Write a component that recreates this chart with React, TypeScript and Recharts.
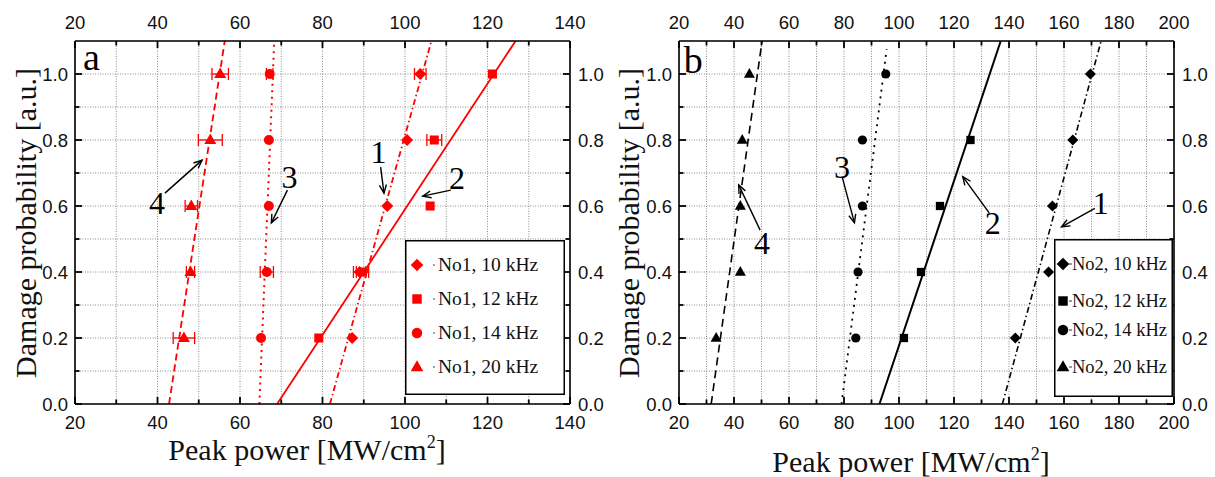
import React from 'react'
import {
  ComposedChart,
  Scatter,
  Line,
  XAxis,
  YAxis,
  CartesianGrid,
  ErrorBar,
  ReferenceLine,
  ReferenceDot,
} from 'recharts'

// damage probability levels (y values of the measured points)
const probs = [0.2, 0.4, 0.6, 0.8, 1.0]

// panel a, sample No1: peak power [MW/cm2] at each probability
const a10 = [87.2, 89.0, 95.7, 100.5, 103.7]
const a12 = [79.1, 89.7, 106.1, 107.1, 121.2]
const a14 = [65.1, 66.5, 67.0, 67.0, 67.2]
const a20 = [46.4, 48.0, 48.2, 52.8, 55.2]
// horizontal error half-widths for panel a
const a10Err = [0, 1.5, 0, 0, 1.4]
const a12Err = [0, 1.5, 0, 1.8, 0]
const a14Err = [0, 1.6, 0, 0, 0.8]
const a20Err = [2.6, 1.0, 1.5, 2.9, 2.0]

// panel b, sample No2
const b10 = [142.3, 154.4, 155.8, 163.2, 169.6]
const b12 = [101.8, 108.0, 114.9, 126.0]
const b14 = [84.3, 85.1, 86.7, 86.7, 95.2]
const b20 = [33.5, 42.3, 42.3, 43.0, 45.6]

// fitted lines: x at the two ends, y at the two ends
const aFit1X = [81.8, 106.4]
const aFit2X = [69.0, 126.8]
const aFit3X = [64.7, 68.3]
const aFit4X = [42.8, 56.3]
const bFit1X = [137.6, 173.5]
const bFit2X = [92.9, 137.0]
const bFit3X = [79.1, 95.5]
const bFit4X = [31.7, 50.2]
const fitY = [0, 1.1]
const bFit3Y = [0, 1.075]

// axis ticks
const aTicks = [20, 30, 40, 50, 60, 70, 80, 90, 100, 110, 120, 130, 140]
const bTicks = [20, 30, 40, 50, 60, 70, 80, 90, 100, 110, 120, 130, 140, 150, 160, 170, 180, 190, 200]
const yTicks = [0, 0.1, 0.2, 0.3, 0.4, 0.5, 0.6, 0.7, 0.8, 0.9, 1.0, 1.1]

const aLabels = ['No1, 10 kHz', 'No1, 12 kHz', 'No1, 14 kHz', 'No1, 20 kHz']
const bLabels = ['No2, 10 kHz', 'No2, 12 kHz', 'No2, 14 kHz', 'No2, 20 kHz']

// annotation numbers [label, x, y] and arrows [x1, y1, x2, y2] in data units
const aNotes: [string, number, number][] = [
  ['1', 93.6, 0.764],
  ['2', 112.6, 0.685],
  ['3', 72.0, 0.688],
  ['4', 39.9, 0.609],
]
const aArrows = [
  [94.1, 0.718, 94.9, 0.639],
  [111.1, 0.648, 104.3, 0.63],
  [71.5, 0.648, 67.6, 0.549],
  [41.8, 0.639, 50.8, 0.739],
]
const bNotes: [string, number, number][] = [
  ['3', 79.3, 0.719],
  ['4', 50.2, 0.488],
  ['2', 134.1, 0.548],
  ['1', 173.4, 0.609],
]
const bArrows = [
  [79.3, 0.689, 83.8, 0.549],
  [49.5, 0.527, 41.7, 0.664],
  [132.8, 0.579, 123.2, 0.689],
  [171.2, 0.593, 159.1, 0.537],
]

const serif = '"Liberation Serif", "Times New Roman", serif'
const sans = '"Liberation Sans", Arial, sans-serif'
const RED = '#ff0000'
const BLACK = '#000000'

const pts = (xs: number[], ys: number[], err?: number[]) =>
  xs.map((x, i) => ({ x, y: ys[i], ex: err ? err[i] : undefined }))

type Kind = 'diamond' | 'square' | 'circle' | 'triangle'

function marker(kind: Kind, cx: number, cy: number, color: string, s = 1) {
  if (kind === 'diamond') {
    const w = 6 * s
    return <polygon points={`${cx},${cy - w} ${cx + w},${cy} ${cx},${cy + w} ${cx - w},${cy}`} fill={color} />
  }
  if (kind === 'square') {
    const h = 4.5 * s
    return <rect x={cx - h} y={cy - h} width={2 * h} height={2 * h} fill={color} />
  }
  if (kind === 'circle') return <circle cx={cx} cy={cy} r={5 * s} fill={color} />
  const w = 6 * s
  return <polygon points={`${cx},${cy - 6.5 * s} ${cx + w},${cy + 4 * s} ${cx - w},${cy + 4 * s}`} fill={color} />
}

const shapeOf = (kind: Kind, color: string, s: number) => (p: any) =>
  p.cx == null ? <g /> : <g>{marker(kind, p.cx, p.cy, color, s)}</g>

function isMajor(v: number, axis: 'x' | 'y') {
  if (axis === 'x') return Math.round(v) % 20 === 0
  return Math.round(v * 10) % 2 === 0 && v < 1.05
}

const makeTick = (side: 'top' | 'bottom' | 'left' | 'right') => (p: any) => {
  const { x, y, payload } = p
  const v = payload.value
  const axis = side === 'top' || side === 'bottom' ? 'x' : 'y'
  if (axis === 'y' && v > 1.05) return <g />
  const major = isMajor(v, axis)
  const len = major ? 7 : 4.5
  const label = axis === 'x' ? String(v) : v.toFixed(1)
  const txt = { fontFamily: sans, fontSize: 18.5, fill: '#111' }
  if (side === 'bottom')
    return (
      <g>
        <line x1={x} y1={y} x2={x} y2={y - len} stroke={BLACK} strokeWidth={1.8} />
        {major && <text x={x} y={y + 25} textAnchor="middle" {...txt}>{label}</text>}
      </g>
    )
  if (side === 'top')
    return (
      <g>
        <line x1={x} y1={y} x2={x} y2={y + len} stroke={BLACK} strokeWidth={1.8} />
        {major && <text x={x} y={y - 12} textAnchor="middle" {...txt}>{label}</text>}
      </g>
    )
  if (side === 'left')
    return (
      <g>
        <line x1={x} y1={y} x2={x + len} y2={y} stroke={BLACK} strokeWidth={1.8} />
        {major && <text x={x - 7} y={y + 6.5} textAnchor="end" {...txt}>{label}</text>}
      </g>
    )
  return (
    <g>
      <line x1={x} y1={y} x2={x - len} y2={y} stroke={BLACK} strokeWidth={1.8} />
      {major && <text x={x + 8} y={y + 6.5} textAnchor="start" {...txt}>{label}</text>}
    </g>
  )
}

const ArrowShape = (p: any) => {
  const { x1, y1, x2, y2 } = p
  const ang = Math.atan2(y2 - y1, x2 - x1)
  const L = 9
  const a1 = ang + Math.PI - 0.4
  const a2 = ang + Math.PI + 0.4
  return (
    <g stroke={BLACK} strokeWidth={1.4} fill="none">
      <line x1={x1} y1={y1} x2={x2} y2={y2} />
      <polyline
        points={`${x2 + L * Math.cos(a1)},${y2 + L * Math.sin(a1)} ${x2},${y2} ${x2 + L * Math.cos(a2)},${y2 + L * Math.sin(a2)}`}
      />
    </g>
  )
}

const noteShape = (label: string, size: number) => (p: any) => (
  <text x={p.cx} y={p.cy} textAnchor="middle" dominantBaseline="central" fontFamily={serif} fontSize={size} fill={BLACK}>
    {label}
  </text>
)

interface Series {
  kind: Kind
  xs: number[]
  err?: number[]
}

interface FitLine {
  xs: number[]
  ys: number[]
  dash?: string
  width: number
}

interface PanelProps {
  left: number
  ticks: number[]
  domain: [number, number]
  color: string
  series: Series[]
  fits: FitLine[]
  notes: [string, number, number][]
  arrows: number[][]
  letter: string
  letterPos: [number, number]
  markerScale: number
}

const axisLine = { stroke: BLACK, strokeWidth: 1.6 }

function Panel({ left, ticks, domain, color, series, fits, notes, arrows, letter, letterPos, markerScale }: PanelProps) {
  return (
    <div style={{ position: 'absolute', left, top: 0 }}>
      {/* axes are 1px thick so that they still get drawn; the margins make up the rest */}
      <ComposedChart width={610} height={477} margin={{ top: 40, right: 40, bottom: 72, left: 73 }}>
        <CartesianGrid stroke="#8c8c8c" strokeDasharray="1 1.5" strokeWidth={1} />
        <XAxis
          type="number"
          dataKey="x"
          domain={domain}
          ticks={ticks}
          allowDataOverflow
          height={1}
          tickSize={0}
          tickMargin={0}
          tickLine={false}
          interval={0}
          axisLine={axisLine}
          tick={makeTick('bottom')}
        />
        <XAxis
          xAxisId="top"
          orientation="top"
          type="number"
          dataKey="x"
          domain={domain}
          ticks={ticks}
          allowDataOverflow
          height={1}
          tickSize={0}
          tickMargin={0}
          tickLine={false}
          interval={0}
          axisLine={axisLine}
          tick={makeTick('top')}
        />
        <YAxis
          type="number"
          dataKey="y"
          domain={[0, 1.1]}
          ticks={yTicks}
          allowDataOverflow
          width={1}
          tickSize={0}
          tickMargin={0}
          tickLine={false}
          interval={0}
          axisLine={axisLine}
          tick={makeTick('left')}
        />
        <YAxis
          yAxisId="right"
          orientation="right"
          type="number"
          dataKey="y"
          domain={[0, 1.1]}
          ticks={yTicks}
          allowDataOverflow
          width={1}
          tickSize={0}
          tickMargin={0}
          tickLine={false}
          interval={0}
          axisLine={axisLine}
          tick={makeTick('right')}
        />
        {fits.map((f, i) => (
          <Line
            key={'fit' + i}
            data={pts(f.xs, f.ys)}
            dataKey="y"
            type="linear"
            stroke={color}
            strokeWidth={f.width}
            strokeDasharray={f.dash}
            dot={false}
            activeDot={false}
            isAnimationActive={false}
          />
        ))}
        {series.map((s, i) => (
          <Scatter
            key={'s' + i}
            data={pts(s.xs, probs.slice(0, s.xs.length), s.err)}
            dataKey="y"
            fill={color}
            shape={shapeOf(s.kind, color, markerScale)}
            isAnimationActive={false}
          >
            {s.err && <ErrorBar dataKey="ex" direction="x" width={6} stroke={color} strokeWidth={1.3} />}
          </Scatter>
        ))}
        {arrows.map((a, i) => (
          <ReferenceLine
            key={'ar' + i}
            segment={[
              { x: a[0], y: a[1] },
              { x: a[2], y: a[3] },
            ]}
            ifOverflow="visible"
            shape={ArrowShape}
          />
        ))}
        {notes.map((n, i) => (
          <ReferenceDot key={'n' + i} x={n[1]} y={n[2]} r={1} ifOverflow="visible" shape={noteShape(n[0], 32)} />
        ))}
        <ReferenceDot x={letterPos[0]} y={letterPos[1]} r={1} ifOverflow="visible" shape={noteShape(letter, 38)} />
      </ComposedChart>
    </div>
  )
}

function LegendBox({
  left,
  top,
  width,
  height,
  labels,
  color,
  rows,
  markerX,
  textX,
  fontSize,
  dash,
}: {
  left: number
  top: number
  width: number
  height: number
  labels: string[]
  color: string
  rows: number[]
  markerX: number
  textX: number
  fontSize: number
  dash: boolean
}) {
  const kinds: Kind[] = ['diamond', 'square', 'circle', 'triangle']
  return (
    <svg style={{ position: 'absolute', left, top, overflow: 'hidden' }} width={width} height={height}>
      <rect x={0.75} y={0.75} width={width - 1.5} height={height - 1.5} fill="#fff" stroke={BLACK} strokeWidth={1.5} />
      {labels.map((l, i) => (
        <g key={l}>
          {marker(kinds[i], markerX, rows[i], color, 1.05)}
          {dash ? (
            <line x1={markerX + 6} y1={rows[i]} x2={textX} y2={rows[i]} stroke="#333" strokeWidth={1} />
          ) : (
            <circle cx={textX - 4} cy={rows[i]} r={0.9} fill="#777" />
          )}
          <text x={textX} y={rows[i] + 6} fontFamily={serif} fontSize={fontSize} fill="#111">
            {l}
          </text>
        </g>
      ))}
    </svg>
  )
}

function XTitle({ x, y }: { x: number; y: number }) {
  return (
    <text x={x} y={y} textAnchor="middle" fontFamily={serif} fontSize={30} fill="#111">
      Peak power [MW/cm
      <tspan dy={-12} fontSize={18}>
        2
      </tspan>
      <tspan dy={12}>]</tspan>
    </text>
  )
}

function YTitle({ x, y }: { x: number; y: number }) {
  return (
    <text x={x} y={y} textAnchor="middle" transform={`rotate(-90, ${x}, ${y})`} fontFamily={serif} fontSize={30} fill="#111">
      Damage probability [a.u.]
    </text>
  )
}

export default function App() {
  return (
    <div style={{ position: 'absolute', left: 0, top: 0, width: 1215, height: 477, background: '#fff', overflow: 'hidden' }}>
      <Panel
        left={1}
        ticks={aTicks}
        domain={[20, 140]}
        color={RED}
        markerScale={1}
        series={[
          { kind: 'diamond', xs: a10, err: a10Err },
          { kind: 'square', xs: a12, err: a12Err },
          { kind: 'circle', xs: a14, err: a14Err },
          { kind: 'triangle', xs: a20, err: a20Err },
        ]}
        fits={[
          { xs: aFit1X, ys: fitY, dash: '6 3 1.5 3', width: 1.8 },
          { xs: aFit2X, ys: fitY, width: 1.8 },
          { xs: aFit3X, ys: fitY, dash: '2 4.5', width: 2 },
          { xs: aFit4X, ys: fitY, dash: '7 4', width: 1.8 },
        ]}
        notes={aNotes}
        arrows={aArrows}
        letter="a"
        letterPos={[24.0, 1.052]}
      />
      <Panel
        left={605}
        ticks={bTicks}
        domain={[20, 200]}
        color={BLACK}
        markerScale={0.92}
        series={[
          { kind: 'diamond', xs: b10 },
          { kind: 'square', xs: b12 },
          { kind: 'circle', xs: b14 },
          { kind: 'triangle', xs: b20 },
        ]}
        fits={[
          { xs: bFit1X, ys: fitY, dash: '6 3 1.5 3', width: 1.6 },
          { xs: bFit2X, ys: fitY, width: 2 },
          { xs: bFit3X, ys: bFit3Y, dash: '2 5', width: 1.8 },
          { xs: bFit4X, ys: fitY, dash: '8 5', width: 1.6 },
        ]}
        notes={bNotes}
        arrows={bArrows}
        letter="b"
        letterPos={[25.2, 1.042]}
      />
      <svg style={{ position: 'absolute', left: 0, top: 0, pointerEvents: 'none' }} width={1215} height={477}>
        <XTitle x={307} y={460} />
        <XTitle x={911} y={472} />
        <YTitle x={36} y={223} />
        <YTitle x={639} y={223} />
      </svg>
      <LegendBox
        left={405}
        top={240}
        width={160}
        height={155}
        labels={aLabels}
        color={RED}
        rows={[25, 59, 93, 127]}
        markerX={12}
        textX={33}
        fontSize={19.5}
        dash={false}
      />
      <LegendBox
        left={1054}
        top={239}
        width={119}
        height={158}
        labels={bLabels}
        color={BLACK}
        rows={[25, 62, 91, 128]}
        markerX={9}
        textX={18}
        fontSize={18.5}
        dash={true}
      />
    </div>
  )
}
